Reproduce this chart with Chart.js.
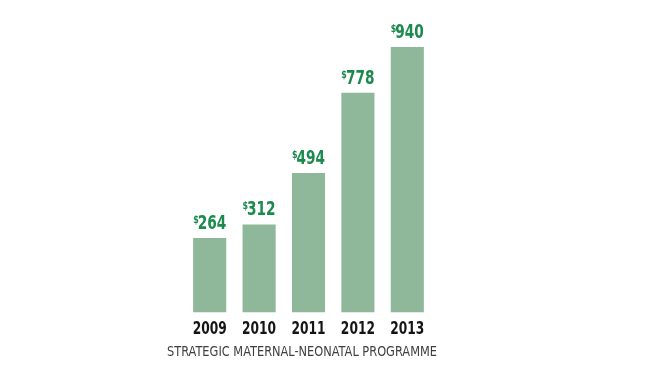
<!DOCTYPE html>
<html>
<head>
<meta charset="utf-8">
<script src="https://cdn.jsdelivr.net/npm/chart.js@4"></script>
<style>
html,body{margin:0;padding:0;background:#fff;}
#wrap{width:648px;height:379px;position:relative;}
</style>
</head>
<body>
<div id="wrap"><canvas id="c" width="648" height="379"></canvas></div>
<script>
const years = ['2009', '2010', '2011', '2012', '2013'];
const amounts = [264, 312, 494, 778, 940];
const subtitle = 'STRATEGIC MATERNAL-NEONATAL PROGRAMME';

const FONT = '"DejaVu Sans Condensed", "Liberation Sans", sans-serif';

function drawNarrow(ctx, text, x, y, sx) {
  ctx.save();
  ctx.translate(x, y);
  ctx.scale(sx, 1);
  ctx.fillText(text, 0, 0);
  ctx.restore();
}

const customLabels = {
  id: 'customLabels',
  afterDatasetsDraw(chart) {
    const ctx = chart.ctx;
    const meta = chart.getDatasetMeta(0);
    const xs = chart.scales.x;
    ctx.save();
    ctx.textBaseline = 'alphabetic';
    ctx.textAlign = 'left';
    // value labels
    ctx.fillStyle = '#1b8a4c';
    const S = 0.8;
    meta.data.forEach((bar, i) => {
      const num = String(amounts[i]);
      ctx.font = 'bold 19px ' + FONT;
      const wNum = ctx.measureText(num).width * S;
      ctx.font = 'bold 11px ' + FONT;
      const wDol = ctx.measureText('$').width * S - 1;
      const x0 = bar.x - (wNum + wDol) / 2;
      const yb = bar.y - 9;
      ctx.font = 'bold 11px ' + FONT;
      drawNarrow(ctx, '$', x0, yb - 6, S);
      ctx.font = 'bold 19px ' + FONT;
      drawNarrow(ctx, num, x0 + wDol, yb, S);
    });
    // year labels
    ctx.fillStyle = '#151515';
    ctx.font = 'bold 17px ' + FONT;
    years.forEach((y, i) => {
      const cx = xs.getPixelForTick(i);
      const w = ctx.measureText(y).width * 0.8;
      drawNarrow(ctx, y, cx - w / 2, xs.top + 21, 0.8);
    });
    // subtitle
    ctx.fillStyle = '#404040';
    ctx.font = '14px ' + FONT;
    const wt = ctx.measureText(subtitle).width;
    drawNarrow(ctx, subtitle, 167, xs.top + 43, 270 / wt);
    ctx.restore();
  }
};

new Chart(document.getElementById('c'), {
  type: 'bar',
  data: {
    labels: years,
    datasets: [{
      data: amounts,
      backgroundColor: '#8fb79a',
      borderWidth: 0,
      categoryPercentage: 0.67,
      barPercentage: 1.0
    }]
  },
  options: {
    responsive: false,
    animation: false,
    devicePixelRatio: 1,
    layout: { padding: { left: 185, right: 216, top: 30, bottom: 34 } },
    plugins: { legend: { display: false }, tooltip: { enabled: false } },
    scales: {
      x: {
        grid: { display: false, drawTicks: false },
        border: { display: false },
        ticks: { color: 'rgba(0,0,0,0)', font: { family: FONT, size: 17, weight: 'bold' }, padding: 6 },
        title: { display: false, text: subtitle }
      },
      y: {
        display: false,
        min: 0,
        max: 1000,
        grid: { display: false }
      }
    }
  },
  plugins: [customLabels]
});
</script>
</body>
</html>
